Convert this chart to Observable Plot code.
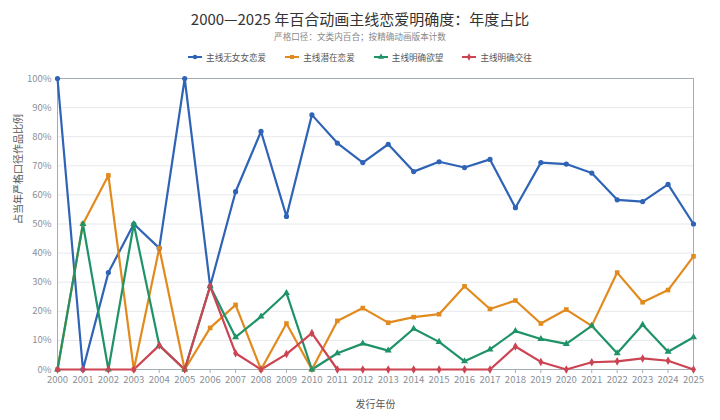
<!DOCTYPE html>
<html>
<head>
<meta charset="utf-8">
<script src="https://cdn.jsdelivr.net/npm/d3@7"></script>
<script src="https://cdn.jsdelivr.net/npm/@observablehq/plot@0.6"></script>
<style>
  html, body { margin: 0; padding: 0; background: #fff; }
  body { width: 720px; height: 420px; overflow: hidden; font-family: "Noto Sans CJK SC", "Noto Sans", sans-serif; }
  #head { height: 68px; position: relative; }
  #title { position: absolute; top: 9px; width: 720px; text-align: center; font-size: 15px; font-weight: 400; color: #333; line-height: 20px; }
  #sub { position: absolute; top: 30px; width: 720px; text-align: center; font-size: 8.6px; color: #888; line-height: 12px; }
  #legend { position: absolute; top: 51px; width: 720px; display: flex; justify-content: center; gap: 19px; font-size: 8.6px; color: #555; line-height: 12px; }
  .item { display: flex; align-items: center; gap: 4px; }
  .item svg { display: block; }
</style>
</head>
<body>
<div id="head">
  <div id="title">2000—2025 年百合动画主线恋爱明确度：年度占比</div>
  <div id="sub">严格口径：文类内百合；按精确动画版本计数</div>
  <div id="legend"></div>
</div>
<div id="chart"></div>
<script>
const years = d3.range(2000, 2026);
const seriesNames = ["主线无女女恋爱", "主线潜在恋爱", "主线明确欲望", "主线明确交往"];
const seriesColors = ["#2f63b6", "#e28a1d", "#1f9367", "#cc4352"];
const seriesSymbols = ["circle", "square", "triangle", "diamond"];

const noRomance = [100, 0, 33.3, 50, 41.7, 100, 28.6, 61.1, 81.8, 52.6, 87.5, 77.8, 71.1, 77.4, 68.0, 71.4, 69.4, 72.2, 55.6, 71.1, 70.6, 67.5, 58.3, 57.7, 63.6, 50.0];
const latentRomance = [0, 50, 66.7, 0, 41.7, 0, 14.3, 22.2, 0, 15.8, 0, 16.7, 21.1, 16.1, 18.0, 19.0, 28.6, 20.8, 23.7, 15.8, 20.6, 15.0, 33.3, 23.1, 27.3, 38.9];
const explicitDesire = [0, 50, 0, 50, 8.3, 0, 28.6, 11.1, 18.2, 26.3, 0, 5.6, 8.9, 6.5, 14.0, 9.5, 2.8, 6.9, 13.2, 10.5, 8.8, 15.0, 5.6, 15.4, 6.1, 11.1];
const explicitDating = [0, 0, 0, 0, 8.3, 0, 28.6, 5.6, 0, 5.3, 12.5, 0, 0, 0, 0, 0, 0, 0, 7.9, 2.6, 0, 2.5, 2.8, 3.8, 3.0, 0];

const yTicks = d3.range(0, 1.0001, 0.1);
const allSeries = [noRomance, latentRomance, explicitDesire, explicitDating];

const data = [];
allSeries.forEach((vals, si) => {
  vals.forEach((v, i) => data.push({year: years[i], value: v / 100, series: seriesNames[si]}));
});

// legend
const legend = document.getElementById("legend");
seriesNames.forEach((name, i) => {
  const it = document.createElement("div");
  it.className = "item";
  const sym = d3.symbol(d3["symbol" + seriesSymbols[i][0].toUpperCase() + seriesSymbols[i].slice(1)], 16)();
  it.innerHTML = `<svg width="14" height="8"><line x1="0" x2="14" y1="4" y2="4" stroke="${seriesColors[i]}" stroke-width="2"/><path d="${sym}" transform="translate(7,4)" fill="${seriesColors[i]}"/></svg><span>${name}</span>`;
  legend.appendChild(it);
});

const chart = Plot.plot({
  width: 720,
  height: 352,
  marginTop: 10,
  marginLeft: 57,
  marginRight: 27,
  marginBottom: 51,
  style: {fontFamily: "'Noto Sans CJK SC', 'Noto Sans', sans-serif", fontSize: "9.5px", color: "#8a8f99", background: "#fff"},
  x: {domain: [2000, 2025], ticks: years, tickFormat: d => String(d), label: null},
  y: {domain: [0, 1], ticks: yTicks, tickFormat: d3.format(".0%"), label: null},
  color: {domain: seriesNames, range: seriesColors},
  symbol: {domain: seriesNames, range: seriesSymbols},
  marks: [
    Plot.gridY(yTicks, {stroke: "#e6e8ec", strokeOpacity: 1, strokeWidth: 1}),
    Plot.ruleY([1], {stroke: "#a6acb5", strokeWidth: 1}),
    Plot.ruleY([0], {stroke: "#a6acb5", strokeWidth: 1}),
    Plot.ruleX([2000, 2025], {stroke: "#a6acb5", strokeWidth: 1}),
    Plot.axisX({ticks: years, tickFormat: d => String(d), tickSize: 4, tickPadding: 3, stroke: "#a6acb5", fill: "#8a8f99", label: null}),
    Plot.axisY({ticks: yTicks, tickFormat: d3.format(".0%"), tickSize: 0, tickPadding: 6, fill: "#8a8f99", label: null}),
    Plot.text(["占当年严格口径作品比例"], {frameAnchor: "left", dx: -39, rotate: -90, fontSize: 10, fill: "#555"}),
    Plot.text(["发行年份"], {frameAnchor: "bottom", dy: 38, fontSize: 10, fill: "#555"}),
    Plot.lineY(data, {x: "year", y: "value", z: "series", stroke: "series", strokeWidth: 2.2, curve: "linear"}),
    Plot.dot(data, {x: "year", y: "value", fill: "series", symbol: "series", r: 2.6, stroke: "none"})
  ]
});
document.getElementById("chart").appendChild(chart);
</script>
</body>
</html>
